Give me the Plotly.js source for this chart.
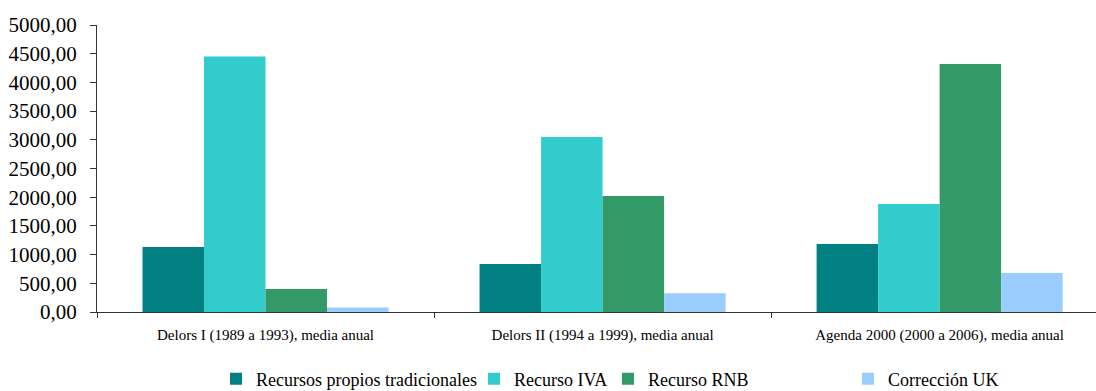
<!DOCTYPE html>
<html>
<head>
<meta charset="utf-8">
<script src="https://cdn.plot.ly/plotly-3.0.1.min.js"></script>
<style>html,body{margin:0;padding:0;background:#fff;}#chart{width:1096px;height:391px;}</style>
</head>
<body>
<div id="chart"></div>
<script>
const categories = ["Delors I (1989 a 1993), media anual", "Delors II (1994 a 1999), media anual", "Agenda 2000 (2000 a 2006), media anual"];
const seriesNames = ["Recursos propios tradicionales", "Recurso IVA", "Recurso RNB", "Corrección UK"];
const recursosPropios = [1132, 836, 1185];
const recursoIVA = [4450, 3049, 1881];
const recursoRNB = [400, 2021, 4320];
const correccionUK = [80, 325, 680];
const colors = ["#008080", "#33CCCC", "#339966", "#99CCFF"];
const yTicks = [0, 500, 1000, 1500, 2000, 2500, 3000, 3500, 4000, 4500, 5000];

const SERIF = "'Liberation Serif', 'Times New Roman', serif";
const legendIds = ["legend", "legend2", "legend3", "legend4"];
const legendX = [0.1971, 0.4325, 0.5547, 0.7737];

const allSeries = [recursosPropios, recursoIVA, recursoRNB, correccionUK];
const traces = allSeries.map((vals, i) => ({
  type: "bar",
  name: seriesNames[i],
  x: categories,
  y: vals,
  legend: legendIds[i],
  marker: {color: colors[i], line: {width: 0}},
  hoverinfo: "x+y+name"
}));

const layout = {
  width: 1096,
  height: 391,
  margin: {l: 97, r: 0, t: 25, b: 79, pad: 0, autoexpand: false},
  paper_bgcolor: "#ffffff",
  plot_bgcolor: "#ffffff",
  font: {family: SERIF, color: "#000000"},
  separators: ",.",
  barmode: "group",
  bargap: 0.27,
  bargroupgap: 0,
  showlegend: true,
  xaxis: {
    type: "category",
    range: [-0.5, 2.464],
    automargin: false,
    showgrid: false,
    showline: true,
    linecolor: "#333333",
    linewidth: 1,
    ticks: "outside",
    tickson: "boundaries",
    ticklen: 5,
    tickcolor: "#333333",
    tickfont: {size: 15, family: SERIF},
    ticklabelstandoff: 9,
    zeroline: false
  },
  yaxis: {
    range: [0, 5000],
    tickvals: yTicks,
    tickformat: ".2f",
    automargin: false,
    showgrid: false,
    showline: true,
    linecolor: "#333333",
    linewidth: 1,
    ticks: "outside",
    ticklen: 6,
    tickcolor: "#333333",
    tickfont: {size: 21, family: SERIF},
    ticklabelstandoff: 9,
    zeroline: false
  }
};

legendIds.forEach((id, i) => {
  layout[id] = {
    orientation: "h",
    xref: "container",
    yref: "container",
    x: legendX[i],
    xanchor: "left",
    y: 0.0307,
    yanchor: "middle",
    bgcolor: "rgba(0,0,0,0)",
    borderwidth: 0,
    font: {size: 18, family: SERIF, color: "#000"},
    itemclick: false,
    itemdoubleclick: false
  };
});

Plotly.newPlot("chart", traces, layout, {displayModeBar: false, staticPlot: true});
</script>
</body>
</html>
